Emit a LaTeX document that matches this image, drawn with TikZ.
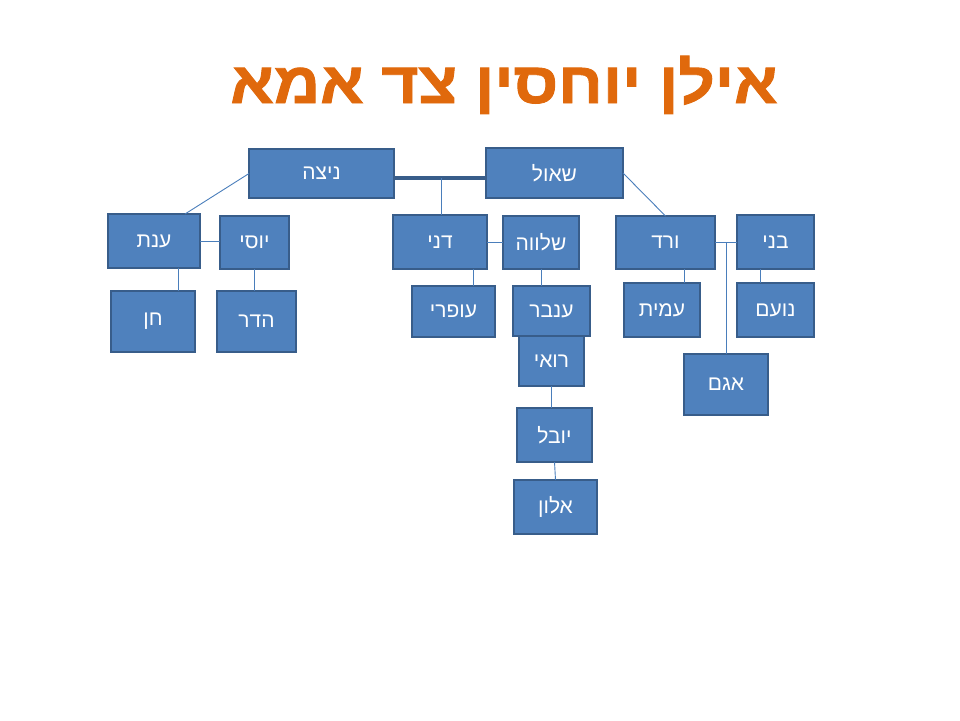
\documentclass[tikz,border=0pt]{standalone}
\usepackage{fontspec}
\TeXXeTstate=1
\newfontfamily\hebfont[Script=Hebrew]{Liberation Sans}
\newfontfamily\hebtitle[Script=Hebrew, BoldFeatures={FakeBold=1.5}]{Liberation Sans}
\definecolor{boxfill}{HTML}{4F81BD}
\definecolor{boxborder}{HTML}{385D8A}
\definecolor{linkcol}{HTML}{4A7EBB}
\definecolor{titlecol}{HTML}{E0690C}
\tikzset{
  box/.style={draw=boxborder, fill=boxfill, line width=2.5pt, inner sep=0pt, outer sep=0pt,
    text=white, font=\hebfont\fontsize{21}{25}\selectfont},
  link/.style={draw=linkcol, line width=0.9pt},
  thicklink/.style={draw=boxborder, line width=3.5pt},
  titlefont/.style={font=\hebtitle\bfseries\fontsize{58}{66}\selectfont, inner sep=0pt, anchor=base, xscale=1.1}
}
\begin{document}
\begin{tikzpicture}[x=1pt,y=-1pt]
\useasboundingbox (0,0) rectangle (960,720);
% title
\node[titlefont, text=titlecol] (title) at (504,103) {\beginR אילן יוחסין צד אמא\endR};
% boxes
\node[box, minimum width=145pt, minimum height=49pt] (nitza) at (321.5,173.5) {\beginR ניצה\endR};
\node[box, minimum width=137pt, minimum height=50pt] (shaul) at (554.5,173) {\beginR שאול\endR};
\node[box, minimum width=92pt, minimum height=54pt] (anat) at (154,241) {\beginR ענת\endR};
\node[box, minimum width=69pt, minimum height=53pt] (yossi) at (254.5,242.5) {\beginR יוסי\endR};
\node[box, minimum width=84pt, minimum height=61pt] (chen) at (153,321.5) {\beginR חן\endR};
\node[box, minimum width=79pt, minimum height=61pt] (hadar) at (256.5,321.5) {\beginR הדר\endR};
\node[box, minimum width=94pt, minimum height=54pt] (dani) at (440,242) {\beginR דני\endR};
\node[box, minimum width=76pt, minimum height=53pt] (shlava) at (541,242.5) {\beginR שלווה\endR};
\node[box, minimum width=83pt, minimum height=51pt] (ofri) at (453.5,311.5) {\beginR עופרי\endR};
\node[box, minimum width=77pt, minimum height=50pt] (inbar) at (551.5,311) {\beginR ענבר\endR};
\node[box, minimum width=65pt, minimum height=50pt] (roi) at (551.5,361) {\beginR רואי\endR};
\node[box, minimum width=75pt, minimum height=54pt] (yuval) at (554.5,435) {\beginR יובל\endR};
\node[box, minimum width=83pt, minimum height=54pt] (alon) at (555.5,507) {\beginR אלון\endR};
\node[box, minimum width=99pt, minimum height=53pt] (vered) at (665.5,242.5) {\beginR ורד\endR};
\node[box, minimum width=77pt, minimum height=54pt] (beni) at (775.5,242) {\beginR בני\endR};
\node[box, minimum width=84pt, minimum height=61pt] (agam) at (726,384.5) {\beginR אגם\endR};
\node[box, minimum width=76pt, minimum height=54pt] (amit) at (662,310) {\beginR עמית\endR};
\node[box, minimum width=77pt, minimum height=54pt] (noam) at (775.5,310) {\beginR נועם\endR};
% connectors
\coordinate (m) at (441,178);
\draw[thicklink] (nitza.east |- m) -- (shaul.west |- m);
\draw[link] (m) -- (dani.north -| m);
\draw[link] (nitza.west) -- ([xshift=31pt]anat.north);
\draw[link] (anat.east) -- (anat.east -| yossi.west);
\draw[link] ([xshift=24pt]anat.south) -- ([xshift=24pt]anat.south |- chen.north);
\draw[link] (yossi.south) -- (yossi.south |- hadar.north);
\draw[link] (dani.east) -- (dani.east -| shlava.west);
\draw[link] ([xshift=33pt]dani.south) -- ([xshift=33pt]dani.south |- ofri.north);
\draw[link] (shlava.south) -- (shlava.south |- inbar.north);
\draw[link] (roi.south) -- (roi.south |- yuval.north);
\draw[link] (yuval.south) -- (alon.north);
\draw[link] (shaul.east) -- (vered.north);
\draw[link] (vered.east) -- (vered.east -| beni.west);
\coordinate (j) at (vered.east -| agam.north);
\draw[link] (j) -- (agam.north);
\draw[link] ([xshift=19pt]vered.south) -- ([xshift=19pt]vered.south |- amit.north);
\draw[link] ([xshift=-15.5pt]beni.south) -- ([xshift=-15.5pt]beni.south |- noam.north);
\end{tikzpicture}
\end{document}
